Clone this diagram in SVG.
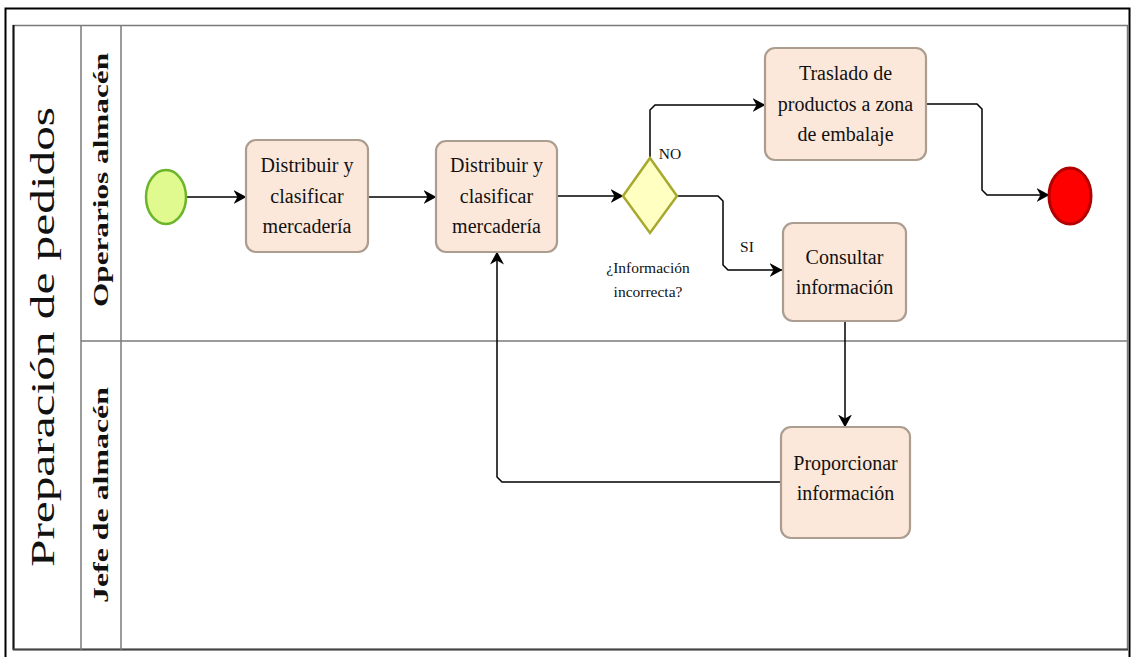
<svg xmlns="http://www.w3.org/2000/svg" width="1131" height="657" viewBox="0 0 1131 657">
  <defs>
    <marker id="arrow" viewBox="0 0 13 14" refX="12.5" refY="7" markerWidth="13" markerHeight="14" markerUnits="userSpaceOnUse" orient="auto">
      <path d="M0,0 L13,7 L0,14 L4,7 Z" fill="#000"/>
    </marker>
    <style>
      text { font-family: "Liberation Serif", "DejaVu Serif", "Times New Roman", serif; fill: #111; text-anchor: middle; }
      .task { fill: #fce8da; stroke: #ab9d8f; stroke-width: 2.2; }
      .tt { font-size: 20px; }
      .lbl { font-size: 15.5px; }
      .lane { font-size: 21px; font-weight: bold; }
      .title { font-size: 34px; }
      .conn { fill: none; stroke: #000; stroke-width: 1.5; marker-end: url(#arrow); }
      .grid { fill: none; stroke: #7a7a7a; stroke-width: 1.5; }
    </style>
  </defs>

  <rect width="1131" height="657" fill="#fff"/>

  <!-- outer frame -->
  <rect x="5.5" y="8.5" width="1124" height="660" fill="none" stroke="#000" stroke-width="2"/>

  <!-- pool and lanes -->
  <g id="pool">
    <rect class="grid" x="13.5" y="25.5" width="1114" height="624"/>
    <line x1="13.5" y1="25" x2="13.5" y2="650" stroke="#111" stroke-width="2"/>
    <line x1="13" y1="649.5" x2="1128" y2="649.5" stroke="#444" stroke-width="1.8"/>
    <line class="grid" x1="81" y1="25" x2="81" y2="650"/>
    <line class="grid" x1="121" y1="25" x2="121" y2="650"/>
    <line class="grid" x1="81" y1="341" x2="1128" y2="341"/>
    <text class="title" transform="translate(54,337) rotate(-90)" textLength="460" lengthAdjust="spacingAndGlyphs">Preparación de pedidos</text>
  </g>
  <g id="lane-operarios">
    <text class="lane" transform="translate(108,180) rotate(-90)" textLength="254" lengthAdjust="spacingAndGlyphs">Operarios almacén</text>
  </g>
  <g id="lane-jefe">
    <text class="lane" transform="translate(108,495) rotate(-90)" textLength="216" lengthAdjust="spacingAndGlyphs">Jefe de almacén</text>
  </g>

  <!-- connectors -->
  <g id="connectors">
    <path class="conn" d="M186,197 H246"/>
    <path class="conn" d="M368,197 H436"/>
    <path class="conn" d="M557,196 H623"/>
    <path class="conn" d="M650,158 V110 L655,105 H765"/>
    <path class="conn" d="M677,196 H718 L723,201 V265 L728,270 H782"/>
    <path class="conn" d="M926,104 H977 L982,109 V190 L987,195 H1049"/>
    <path class="conn" d="M845,321 V427"/>
    <path class="conn" d="M781,482 H502 L497,477 V252"/>
    <text class="lbl" x="670" y="159">NO</text>
    <text class="lbl" x="747" y="252">SI</text>
  </g>

  <!-- nodes -->
  <g id="start">
    <ellipse cx="166" cy="197" rx="20" ry="27" fill="#e1fa90" stroke="#6cb52a" stroke-width="2.5"/>
  </g>

  <g id="task-distribuir-1">
    <rect class="task" x="246" y="140" width="122" height="112" rx="10"/>
    <text class="tt" x="307" y="172">Distribuir y</text>
    <text class="tt" x="307" y="203">clasificar</text>
    <text class="tt" x="307" y="233">mercadería</text>
  </g>

  <g id="task-distribuir-2">
    <rect class="task" x="436" y="141" width="121" height="111" rx="10"/>
    <text class="tt" x="496.5" y="172">Distribuir y</text>
    <text class="tt" x="496.5" y="203">clasificar</text>
    <text class="tt" x="496.5" y="233">mercadería</text>
  </g>

  <g id="gateway">
    <polygon points="650,158 677,196 650,233 623,196" fill="#ffffc2" stroke="#a9a82e" stroke-width="2.5"/>
    <text class="lbl" x="648" y="273">¿Información</text>
    <text class="lbl" x="648" y="297">incorrecta?</text>
  </g>

  <g id="task-traslado">
    <rect class="task" x="765" y="48" width="161" height="112" rx="10"/>
    <text class="tt" x="845.5" y="80">Traslado de</text>
    <text class="tt" x="845.5" y="111">productos a zona</text>
    <text class="tt" x="845.5" y="141">de embalaje</text>
  </g>

  <g id="end">
    <ellipse cx="1070" cy="196" rx="21" ry="28" fill="#ff0000" stroke="#b20000" stroke-width="3"/>
  </g>

  <g id="task-consultar">
    <rect class="task" x="783" y="223" width="123" height="98" rx="10"/>
    <text class="tt" x="844.5" y="264">Consultar</text>
    <text class="tt" x="844.5" y="294">información</text>
  </g>

  <g id="task-proporcionar">
    <rect class="task" x="781" y="427" width="129" height="111" rx="10"/>
    <text class="tt" x="845.5" y="470">Proporcionar</text>
    <text class="tt" x="845.5" y="500">información</text>
  </g>
</svg>
